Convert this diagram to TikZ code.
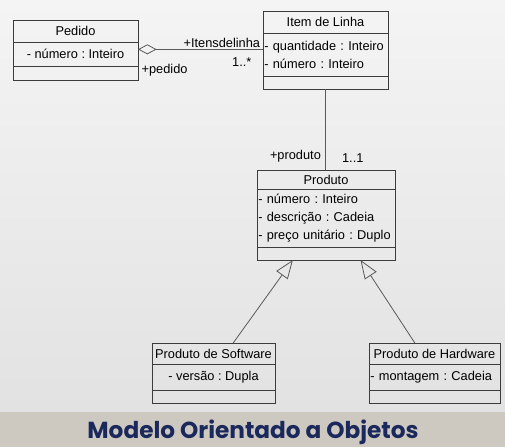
\documentclass[tikz,border=0pt]{standalone}
\usepackage{fontspec}
\setmainfont{Liberation Sans}
\newfontfamily\titlefont{Poppins}
\usepackage{tikz}
\usetikzlibrary{arrows.meta, positioning, calc}
\frenchspacing

\definecolor{bgtop}{RGB}{244,244,244}
\definecolor{bgbot}{RGB}{226,226,226}
\definecolor{band}{RGB}{205,201,192}
\definecolor{navy}{RGB}{27,40,92}
\definecolor{boxline}{RGB}{60,60,60}
\definecolor{conline}{RGB}{90,90,90}

\newcommand{\umlfont}{\fontsize{9.6}{13.5}\selectfont}

\tikzset{
  part/.style={draw=boxline, line width=0.6pt, minimum width=#1, inner sep=1pt,
    outer sep=0pt, font=\umlfont},
  attrs/.style={part=#1, text width=#1-2pt, align=left},
  lbl/.style={font=\umlfont, inner sep=1pt},
  conn/.style={draw=conline, line width=0.6pt}
}

\begin{document}
\begin{tikzpicture}[x=0.75pt, y=-0.75pt, >=Stealth]
  \useasboundingbox (0,0) rectangle (505,447);
  % Background
  \fill[top color=bgtop, bottom color=bgbot] (0,0) rectangle (505,412);
  \fill[band] (0,412) rectangle (505,447);
  % Pedido
  \node[part=93.75pt, minimum height=16.5pt, anchor=north west] (pedido-n) at (13,20) {Pedido};
  \node[part=93.75pt, minimum height=18pt, below=0pt of pedido-n] (pedido-a) {- número : Inteiro};
  \node[part=93.75pt, minimum height=10.5pt, below=0pt of pedido-a] (pedido-o) {};
  % Item de Linha
  \node[part=93.75pt, minimum height=16.5pt, anchor=north west] (item-n) at (263,11) {Item de Linha};
  \node[attrs=93.75pt, minimum height=32.25pt, below=0pt of item-n] (item-a)
    {- quantidade : Inteiro\\- número : Inteiro};
  \node[part=93.75pt, minimum height=9.75pt, below=0pt of item-a] (item-o) {};
  % Produto
  \node[part=103.5pt, minimum height=14.25pt, anchor=north west] (produto-n) at (257,170) {Produto};
  \node[attrs=103.5pt, minimum height=43.5pt, below=0pt of produto-n] (produto-a)
    {- número : Inteiro\\- descrição : Cadeia\\- preço unitário : Duplo};
  \node[part=103.5pt, minimum height=9.75pt, below=0pt of produto-a] (produto-o) {};
  % Produto de Software
  \node[part=92.25pt, minimum height=15.75pt, anchor=north west] (soft-n) at (152,343) {Produto de Software};
  \node[part=92.25pt, minimum height=19.5pt, below=0pt of soft-n] (soft-a) {- versão : Dupla};
  \node[part=92.25pt, minimum height=9.75pt, below=0pt of soft-a] (soft-o) {};
  % Produto de Hardware
  \node[part=98.25pt, minimum height=15.75pt, anchor=north west] (hard-n) at (369,343) {Produto de Hardware};
  \node[attrs=98.25pt, minimum height=19.5pt, below=0pt of hard-n] (hard-a) {- montagem : Cadeia};
  \node[part=98.25pt, minimum height=9.75pt, below=0pt of hard-a] (hard-o) {};
  % Aggregation
  \coordinate (assoc) at ([yshift=3.5pt]pedido-a.east);
  \draw[conn, {Diamond[open, length=14pt, width=7.5pt]}-] (assoc) -- (assoc -| item-a.west);
  \node[lbl, above left] (l-itens) at ([xshift=-1pt]assoc -| item-a.west) {+Itensdelinha};
  \node[lbl, anchor=east] (l-mult) at ([shift={(-10,13)}]assoc -| item-a.west) {1..*};
  \node[lbl, anchor=west] (l-pedido) at ([shift={(2,16)}]pedido-a.east) {+pedido};
  % Association to Produto
  \draw[conn] (item-o.south) -- (item-o.south |- produto-n.north);
  \node[lbl, anchor=east] (l-produto) at ([shift={(-3,-14)}]item-o.south |- produto-n.north) {+produto};
  \node[lbl, anchor=west] (l-one) at ([shift={(15,-12)}]item-o.south |- produto-n.north) {1..1};
  % Generalization
  \coordinate (g1) at ($(produto-o.south west)!0.26!(produto-o.south east)$);
  \coordinate (g2) at ($(produto-o.south west)!0.75!(produto-o.south east)$);
  \draw[conn, -{Triangle[open, length=14pt, width=10.5pt]}]
    ($(soft-n.north west)!0.66!(soft-n.north east)$) -- (g1);
  \draw[conn, -{Triangle[open, length=14pt, width=10.5pt]}]
    ($(hard-n.north west)!0.35!(hard-n.north east)$) -- (g2);
  % Title
  \node[font=\titlefont\bfseries\fontsize{17.4}{20}\selectfont, text=navy] (title) at (253,432)
    {Modelo Orientado a Objetos};
\end{tikzpicture}
\end{document}
